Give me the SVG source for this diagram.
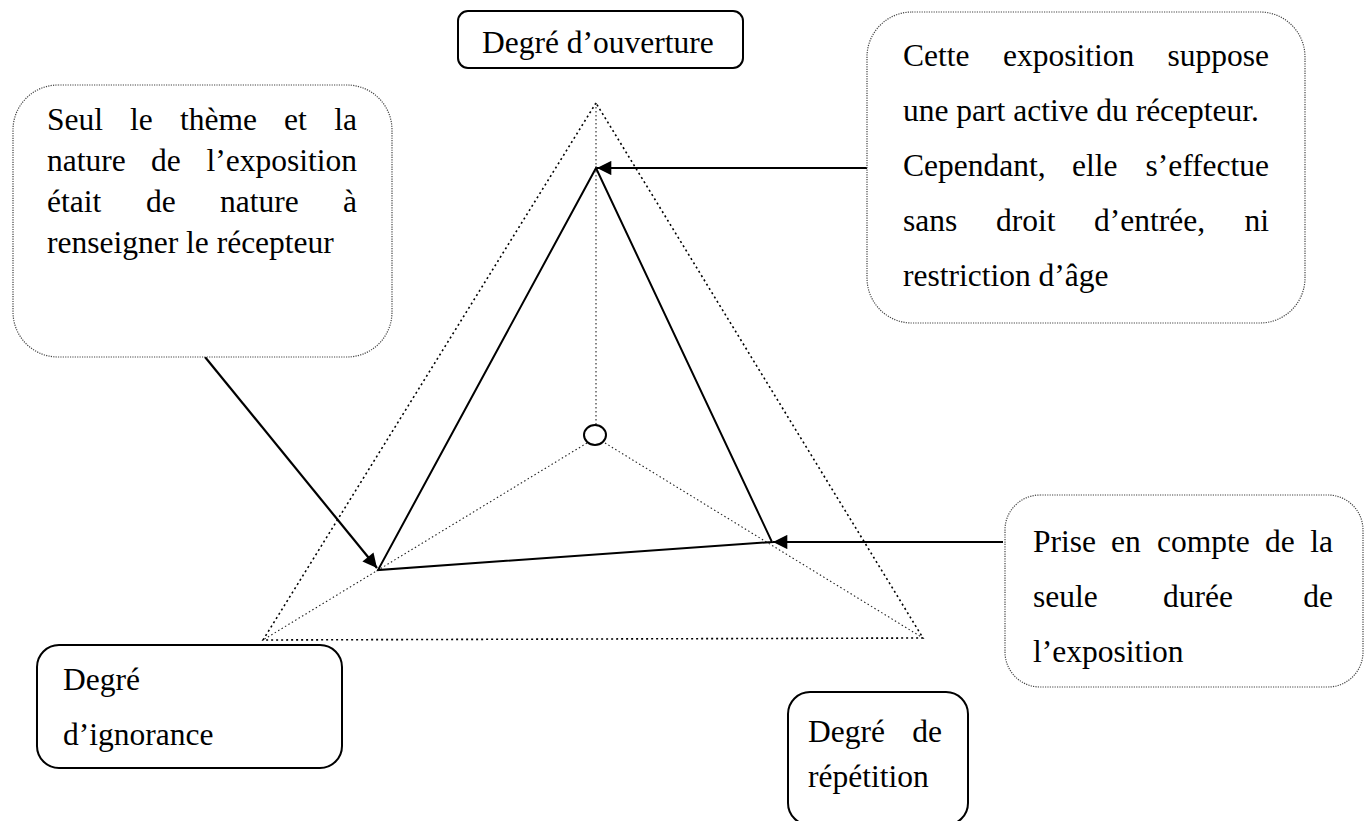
<svg xmlns="http://www.w3.org/2000/svg" width="1367" height="821" viewBox="0 0 1367 821">
<style>
text{font-family:"Liberation Serif","Times New Roman",serif;font-size:31.5px;fill:#000}
.solidbox{fill:#fff;stroke:#000;stroke-width:2}
.dotbox{fill:#fff;stroke:#444;stroke-width:1.2;stroke-dasharray:1.2 1.2}
.outer{fill:none;stroke:#000;stroke-width:1.6;stroke-dasharray:2 3}
.ray{fill:none;stroke:#222;stroke-width:1.1;stroke-dasharray:1.5 2.5}
.inner{fill:none;stroke:#000;stroke-width:2}
.arrow{fill:none;stroke:#000;stroke-width:2.2;marker-end:url(#ah)}
</style>
<defs>
<marker id="ah" viewBox="0 0 10 10" refX="10" refY="5" markerWidth="7" markerHeight="6.5" orient="auto" markerUnits="strokeWidth">
<path d="M0,0 L10,5 L0,10 z" fill="#000"/>
</marker>
</defs>
<rect width="1367" height="821" fill="#fff"/>

<g id="triangle">
<polygon class="outer" points="596,103 263,640 923,638"/>
<line class="ray" x1="596" y1="103" x2="596" y2="425"/>
<line class="ray" x1="587" y1="443" x2="263" y2="640"/>
<line class="ray" x1="605" y1="443" x2="923" y2="638"/>
<ellipse cx="595" cy="435" rx="11" ry="10" fill="#fff" stroke="#000" stroke-width="2"/>
<polygon class="inner" points="596,168 378,570 772,542"/>
</g>

<g id="connectors">
<line class="arrow" x1="870" y1="168" x2="597" y2="168"/>
<line class="arrow" x1="1003" y1="542" x2="773" y2="542"/>
<line class="arrow" x1="205" y1="357" x2="377" y2="568"/>
</g>

<g id="node-ouverture">
<rect class="solidbox" x="458" y="11" width="285" height="57" rx="10"/>
<text x="482" y="53">Degré d’ouverture</text>
</g>

<g id="node-seul">
<rect class="dotbox" x="13" y="85" width="379" height="272" rx="45"/>
<text y="130"><tspan x="47">Seul</tspan><tspan x="130">le</tspan><tspan x="180">thème</tspan><tspan x="284">et</tspan><tspan x="357" text-anchor="end">la</tspan></text>
<text y="171"><tspan x="47">nature</tspan><tspan x="151">de</tspan><tspan x="357" text-anchor="end">l’exposition</tspan></text>
<text y="212"><tspan x="47">était</tspan><tspan x="146">de</tspan><tspan x="220">nature</tspan><tspan x="357" text-anchor="end">à</tspan></text>
<text y="253"><tspan x="47">renseigner le récepteur</tspan></text>
</g>

<g id="node-cette">
<rect class="dotbox" x="867" y="12" width="438" height="311" rx="45"/>
<text y="66"><tspan x="903">Cette</tspan><tspan x="1003">exposition</tspan><tspan x="1269" text-anchor="end">suppose</tspan></text>
<text y="121"><tspan x="903">une part active du récepteur.</tspan></text>
<text y="176"><tspan x="903">Cependant,</tspan><tspan x="1072">elle</tspan><tspan x="1269" text-anchor="end">s’effectue</tspan></text>
<text y="231"><tspan x="903">sans</tspan><tspan x="996">droit</tspan><tspan x="1094">d’entrée,</tspan><tspan x="1269" text-anchor="end">ni</tspan></text>
<text y="286"><tspan x="903">restriction d’âge</tspan></text>
</g>

<g id="node-prise">
<rect class="dotbox" x="1005" y="495" width="358" height="192" rx="35"/>
<text y="552"><tspan x="1033">Prise</tspan><tspan x="1111">en</tspan><tspan x="1157">compte</tspan><tspan x="1265">de</tspan><tspan x="1333" text-anchor="end">la</tspan></text>
<text y="607"><tspan x="1033">seule</tspan><tspan x="1163">durée</tspan><tspan x="1333" text-anchor="end">de</tspan></text>
<text y="662"><tspan x="1033">l’exposition</tspan></text>
</g>

<g id="node-ignorance">
<rect class="solidbox" x="37" y="645" width="305" height="123" rx="22"/>
<text x="63" y="690">Degré</text>
<text x="63" y="745">d’ignorance</text>
</g>

<g id="node-repetition">
<rect class="solidbox" x="788" y="692" width="180" height="133" rx="22"/>
<text y="742"><tspan x="808">Degré</tspan><tspan x="942" text-anchor="end">de</tspan></text>
<text x="808" y="787">répétition</text>
</g>
</svg>
